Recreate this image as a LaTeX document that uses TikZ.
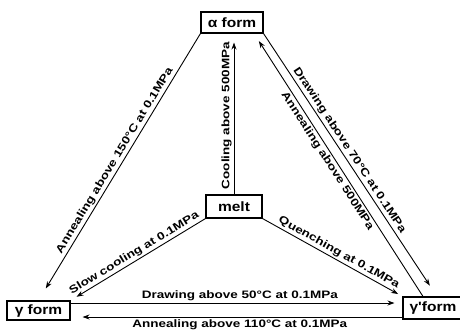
\documentclass[tikz,border=0pt]{standalone}
\usepackage{fontspec}
\usetikzlibrary{arrows.meta}
\newfontfamily\labfont[FakeStretch=1.25]{Liberation Sans}
\newfontfamily\boxfont[FakeStretch=1.15]{Liberation Sans}
\begin{document}
\begin{tikzpicture}[x=1pt,y=1pt,
  box/.style={draw, line width=1.1pt, inner sep=0pt, font=\boxfont\bfseries\fontsize{13.5}{14}\selectfont},
  arr/.style={line width=0.9pt, -{Stealth[length=7pt,width=5pt]}},
  lab/.style={font=\labfont\bfseries\fontsize{10.8}{11}\selectfont, inner sep=1.8pt}]
\useasboundingbox (0,0) rectangle (460,-333);
\node[box, minimum width=62pt, minimum height=21pt] (alpha) at (232,-22.5) {α form};
\node[box, minimum width=56pt, minimum height=23pt] (melt) at (234,-206.5) {melt};
\node[box, minimum width=63pt, minimum height=19pt] (gamma) at (38.5,-310.5) {γ form};
\node[box, minimum width=60pt, minimum height=22pt] (gammap) at (433,-308) {γ'form};
% left side
\draw[arr, shorten >=14pt] (alpha.south west) -- node[lab, sloped, above, pos=0.49] {Annealing above 150°C at 0.1MPa} (gamma.north);
\draw[arr, shorten >=7pt] (melt.south west) -- node[lab, sloped, above] {Slow cooling at 0.1MPa} (gamma.north east);
% melt
\draw[arr, shorten >=5pt] (melt.south east) -- node[lab, sloped, above, pos=0.52] {Quenching at 0.1MPa} (gammap.north west);
\draw[arr, shorten >=9pt] (melt.north) -- node[lab, sloped, above, pos=0.49] {Cooling above 500MPa} (melt.north |- alpha.south);
% right side
\draw[arr, shorten >=13pt] (alpha.south east) -- node[lab, sloped, above, pos=0.46] {Drawing above 70°C at 0.1MPa} ([xshift=4pt]gammap.north);
\draw[arr, shorten >=9pt] ([xshift=-10pt]gammap.north) -- node[lab, sloped, below, pos=0.53] {Annealing above 500MPa} ([xshift=22pt]alpha.south);
% bottom
\coordinate (g1) at ([yshift=7.5pt]gamma.east);
\coordinate (g2) at ([yshift=-9pt]gammap.west);
\draw[arr, shorten >=8pt] (g1) -- node[lab, above, pos=0.51] {Drawing above 50°C at 0.1MPa} (g1 -| gammap.west);
\draw[arr, shorten >=12pt] (g2) -- node[lab, below, pos=0.49] {Annealing above 110°C at 0.1MPa} (g2 -| gamma.east);
\end{tikzpicture}
\end{document}
